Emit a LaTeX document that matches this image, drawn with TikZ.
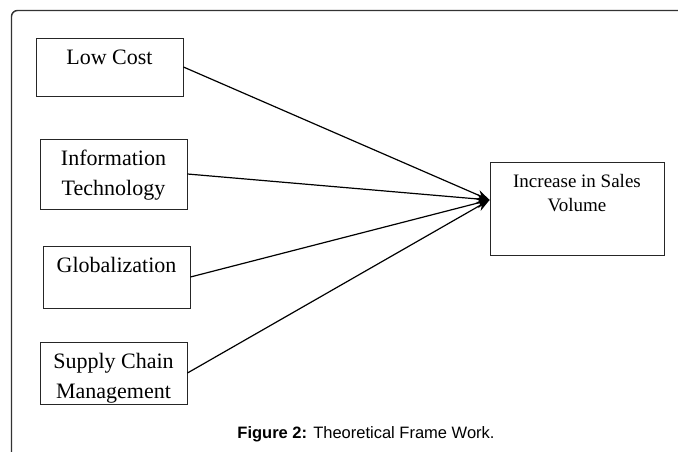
\documentclass[tikz,border=0pt]{standalone}
\usepackage{fontspec}
\setmainfont{Liberation Serif}
\newfontfamily\capfont{Liberation Sans}
\usetikzlibrary{arrows.meta,calc}
\tikzset{
  factor/.style={draw=black!85, line width=0.9pt, minimum width=147pt, inner sep=0pt},
  factortext/.style={anchor=base, align=center, inner sep=0pt, font=\fontsize{22}{30}\selectfont},
  salestext/.style={anchor=base, align=center, inner sep=0pt, font=\fontsize{19}{24}\selectfont},
  link/.style={line width=1.2pt, -{Stealth[length=13pt,width=10pt]}},
}

\begin{document}
\begin{tikzpicture}[x=1pt,y=-1pt]
\useasboundingbox (0,0) rectangle (678,452);
% outer frame
\draw[line width=1.4pt, black!80, rounded corners=6pt] (678,10.5) -- (11.5,10.5) -- (11.5,452);

% factors (base = last text line)
\node[factor, minimum height=58pt] (lowcost) at (109.5,67) {};
\node[factortext] (lowcost-txt) at ([yshift=-27pt]lowcost.north) {Low Cost};
\node[factor, minimum height=70pt] (infotech) at (113.5,174) {};
\node[factortext] (infotech-txt) at ([yshift=-57pt]infotech.north) {Information\\Technology};
\node[factor, minimum height=62pt] (global) at (116.5,277) {};
\node[factortext] (global-txt) at ([yshift=-27pt]global.north) {Globalization};
\node[factor, minimum height=62pt] (supply) at (113.5,373) {};
\node[factortext] (supply-txt) at ([yshift=-57pt]supply.north) {Supply Chain\\Management};

% outcome
\node[factor, minimum width=174pt, minimum height=93pt] (sales) at (577,208.5) {};
\node[salestext] (sales-txt) at ([yshift=-49.5pt]sales.north) {Increase in Sales\\Volume};
\coordinate (meet) at ([yshift=8.5pt]sales.west);

\draw[link] (lowcost.east) -- (meet);
\draw[link] (infotech.east) -- (meet);
\draw[link] (global.east) -- (meet);
\draw[link] (supply.east) -- (meet);

\node[anchor=base, inner sep=0pt, font=\capfont\fontsize{16.5}{20}\selectfont] (caption) at (366,438)
  {\textbf{Figure 2:} Theoretical Frame Work.};
\end{tikzpicture}
\end{document}
